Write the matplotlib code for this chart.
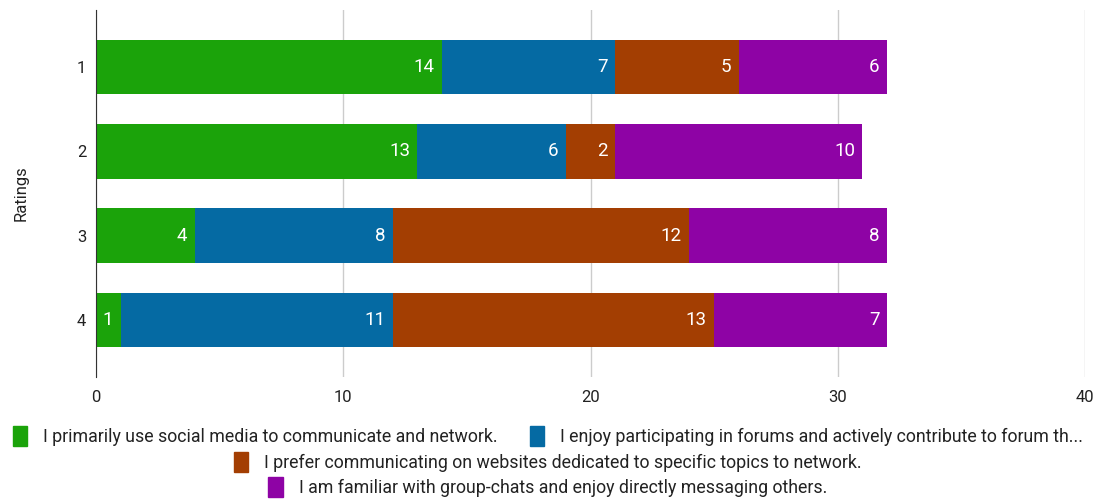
import matplotlib.pyplot as plt
from matplotlib.patches import Patch
import numpy as np

plt.rcParams['font.family'] = ['Roboto', 'DejaVu Sans']

ratings = ['1', '2', '3', '4']
series_names = [
    'I primarily use social media to communicate and network.',
    'I enjoy participating in forums and actively contribute to forum th...',
    'I prefer communicating on websites dedicated to specific topics to network.',
    'I am familiar with group-chats and enjoy directly messaging others.',
]
social_media = [14, 13, 4, 1]
forums = [7, 6, 8, 11]
websites = [5, 2, 12, 13]
group_chats = [6, 10, 8, 7]
colors = ['#1ba30a', '#056aa3', '#a33e02', '#8e03a5']

values = [social_media, forums, websites, group_chats]

fig = plt.figure(figsize=(11.02, 4.99), dpi=100)
ax = fig.add_axes([96 / 1102, 1 - 377 / 499, (1085 - 96) / 1102, 367 / 499])

y = np.arange(len(ratings))
left = np.zeros(len(ratings))
for vals, col in zip(values, colors):
    vals = np.array(vals)
    ax.barh(y, vals, left=left, height=0.65, color=col, zorder=3)
    for yi, l, v in zip(y, left, vals):
        ax.text(l + v - 0.3, yi, str(v), color='white', fontsize=13.5,
                ha='right', va='center', zorder=4)
    left = left + vals

ax.set_xlim(0, 40)
ax.set_ylim(3.675, -0.675)
ax.set_xticks([0, 10, 20, 30, 40])
ax.set_yticks(y)
ax.set_yticklabels(ratings)
ax.tick_params(length=0, labelsize=12, colors='#222222')
ax.tick_params(axis='x', pad=9)
ax.tick_params(axis='y', pad=7)
ax.grid(axis='x', color='#cccccc', linewidth=1, zorder=0)
for s in ['top', 'right', 'bottom']:
    ax.spines[s].set_visible(False)
ax.spines['left'].set_color('#333333')
ax.spines['left'].set_zorder(5)
ax.set_ylabel('Ratings', fontsize=12, color='#222222', labelpad=35)

# legend rows, centred like the original
rows = [[0, 1], [2], [3]]
row_y = [436, 462, 487]
for r, yy in zip(rows, row_y):
    handles = [Patch(facecolor=colors[i], edgecolor=colors[i]) for i in r]
    labels = [series_names[i] for i in r]
    fig.legend(handles, labels, loc='center', bbox_to_anchor=(0.497, 1 - yy / 499),
               ncol=len(r), frameon=False, fontsize=12.8, handlelength=0.8,
               handleheight=1.3, handletextpad=0.9, columnspacing=1.8,
               labelcolor='#222222')

fig.savefig('out.png', dpi=100)
